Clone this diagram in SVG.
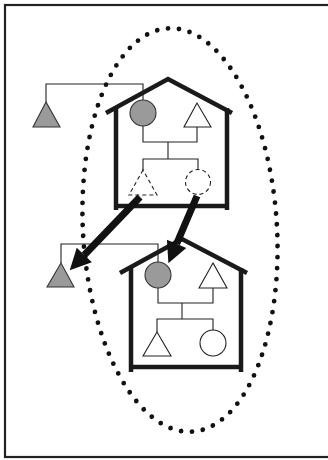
<svg xmlns="http://www.w3.org/2000/svg" width="328" height="460" viewBox="0 0 328 460">
<style>
.frame{fill:none;stroke:#222;stroke-width:2.2}
.house{fill:none;stroke:#1a1a1a;stroke-width:4.5;stroke-linejoin:miter;stroke-linecap:butt}
.thin{fill:none;stroke:#222;stroke-width:1.1}
.gray{fill:#9a9a9a;stroke:#333;stroke-width:1.1}
.white{fill:#fff;stroke:#222;stroke-width:1.1}
.dash{fill:#fff;stroke:#222;stroke-width:1.1;stroke-dasharray:4 3}
.dots{fill:none;stroke:#111;stroke-width:4.8;stroke-linecap:round;stroke-dasharray:0 1}
.arrow{fill:none;stroke:#111;stroke-width:7;marker-end:url(#head)}
</style>
<defs>
<marker id="head" viewBox="0 0 10 10" refX="0" refY="5" markerWidth="3.6" markerHeight="3" orient="auto" markerUnits="strokeWidth">
<path d="M0,0 L10,5 L0,10 z" fill="#111"/>
</marker>
</defs>
<rect class="frame" x="5" y="5" width="330" height="452"/>
<g id="region">
<ellipse class="dots" cx="180" cy="230" rx="97" ry="202" transform="rotate(-3.4 180 230)" pathLength="88"/>
</g>
<g id="house1">
<polyline class="house" points="106,113 168,79 232,113"/>
<line class="house" x1="116" y1="108" x2="116" y2="210"/>
<line class="house" x1="227" y1="108" x2="227" y2="210"/>
<line class="house" x1="116" y1="206" x2="227" y2="206"/>
</g>
<g id="house2">
<polyline class="house" points="120,273 182,239 247,273"/>
<line class="house" x1="131" y1="268" x2="131" y2="372"/>
<line class="house" x1="241" y1="268" x2="241" y2="372"/>
<line class="house" x1="131" y1="367" x2="241" y2="367"/>
</g>
<g id="kin-lines">
<polyline class="thin" points="143,100 143,84 46,84 46,102"/>
<polyline class="thin" points="143,126 143,142 197,142 197,127"/>
<polyline class="thin" points="168,142 168,159"/>
<polyline class="thin" points="143,170 143,159 198,159 198,170"/>
<polyline class="thin" points="158,262 158,244 61,244 61,263"/>
<polyline class="thin" points="158,288 158,303 213,303 213,288"/>
<polyline class="thin" points="182,303 182,319"/>
<polyline class="thin" points="157,332 157,319 213,319 213,330"/>
</g>
<g id="gm1"><polygon class="gray" points="46,102 33,127 60,127"/></g>
<g id="mother1"><circle class="gray" cx="143" cy="113" r="13"/></g>
<g id="father1"><polygon class="white" points="197,103 184,127 211,127"/></g>
<g id="son1"><polygon class="dash" points="143,170 129,195 157,195"/></g>
<g id="daughter1"><circle class="dash" cx="198" cy="182" r="12.5"/></g>
<g id="gm2"><polygon class="gray" points="61,263 47,287 74,287"/></g>
<g id="mother2"><circle class="gray" cx="158" cy="275" r="13"/></g>
<g id="father2"><polygon class="white" points="213,263 199,288 227,288"/></g>
<g id="son2"><polygon class="white" points="157,332 143,356 171,356"/></g>
<g id="daughter2"><circle class="white" cx="213" cy="343" r="13"/></g>
<g id="connectors">
<line class="arrow" x1="140" y1="197" x2="84.3" y2="255"/>
<line class="arrow" x1="197" y1="196" x2="176.6" y2="243.9"/>
</g>
</svg>
